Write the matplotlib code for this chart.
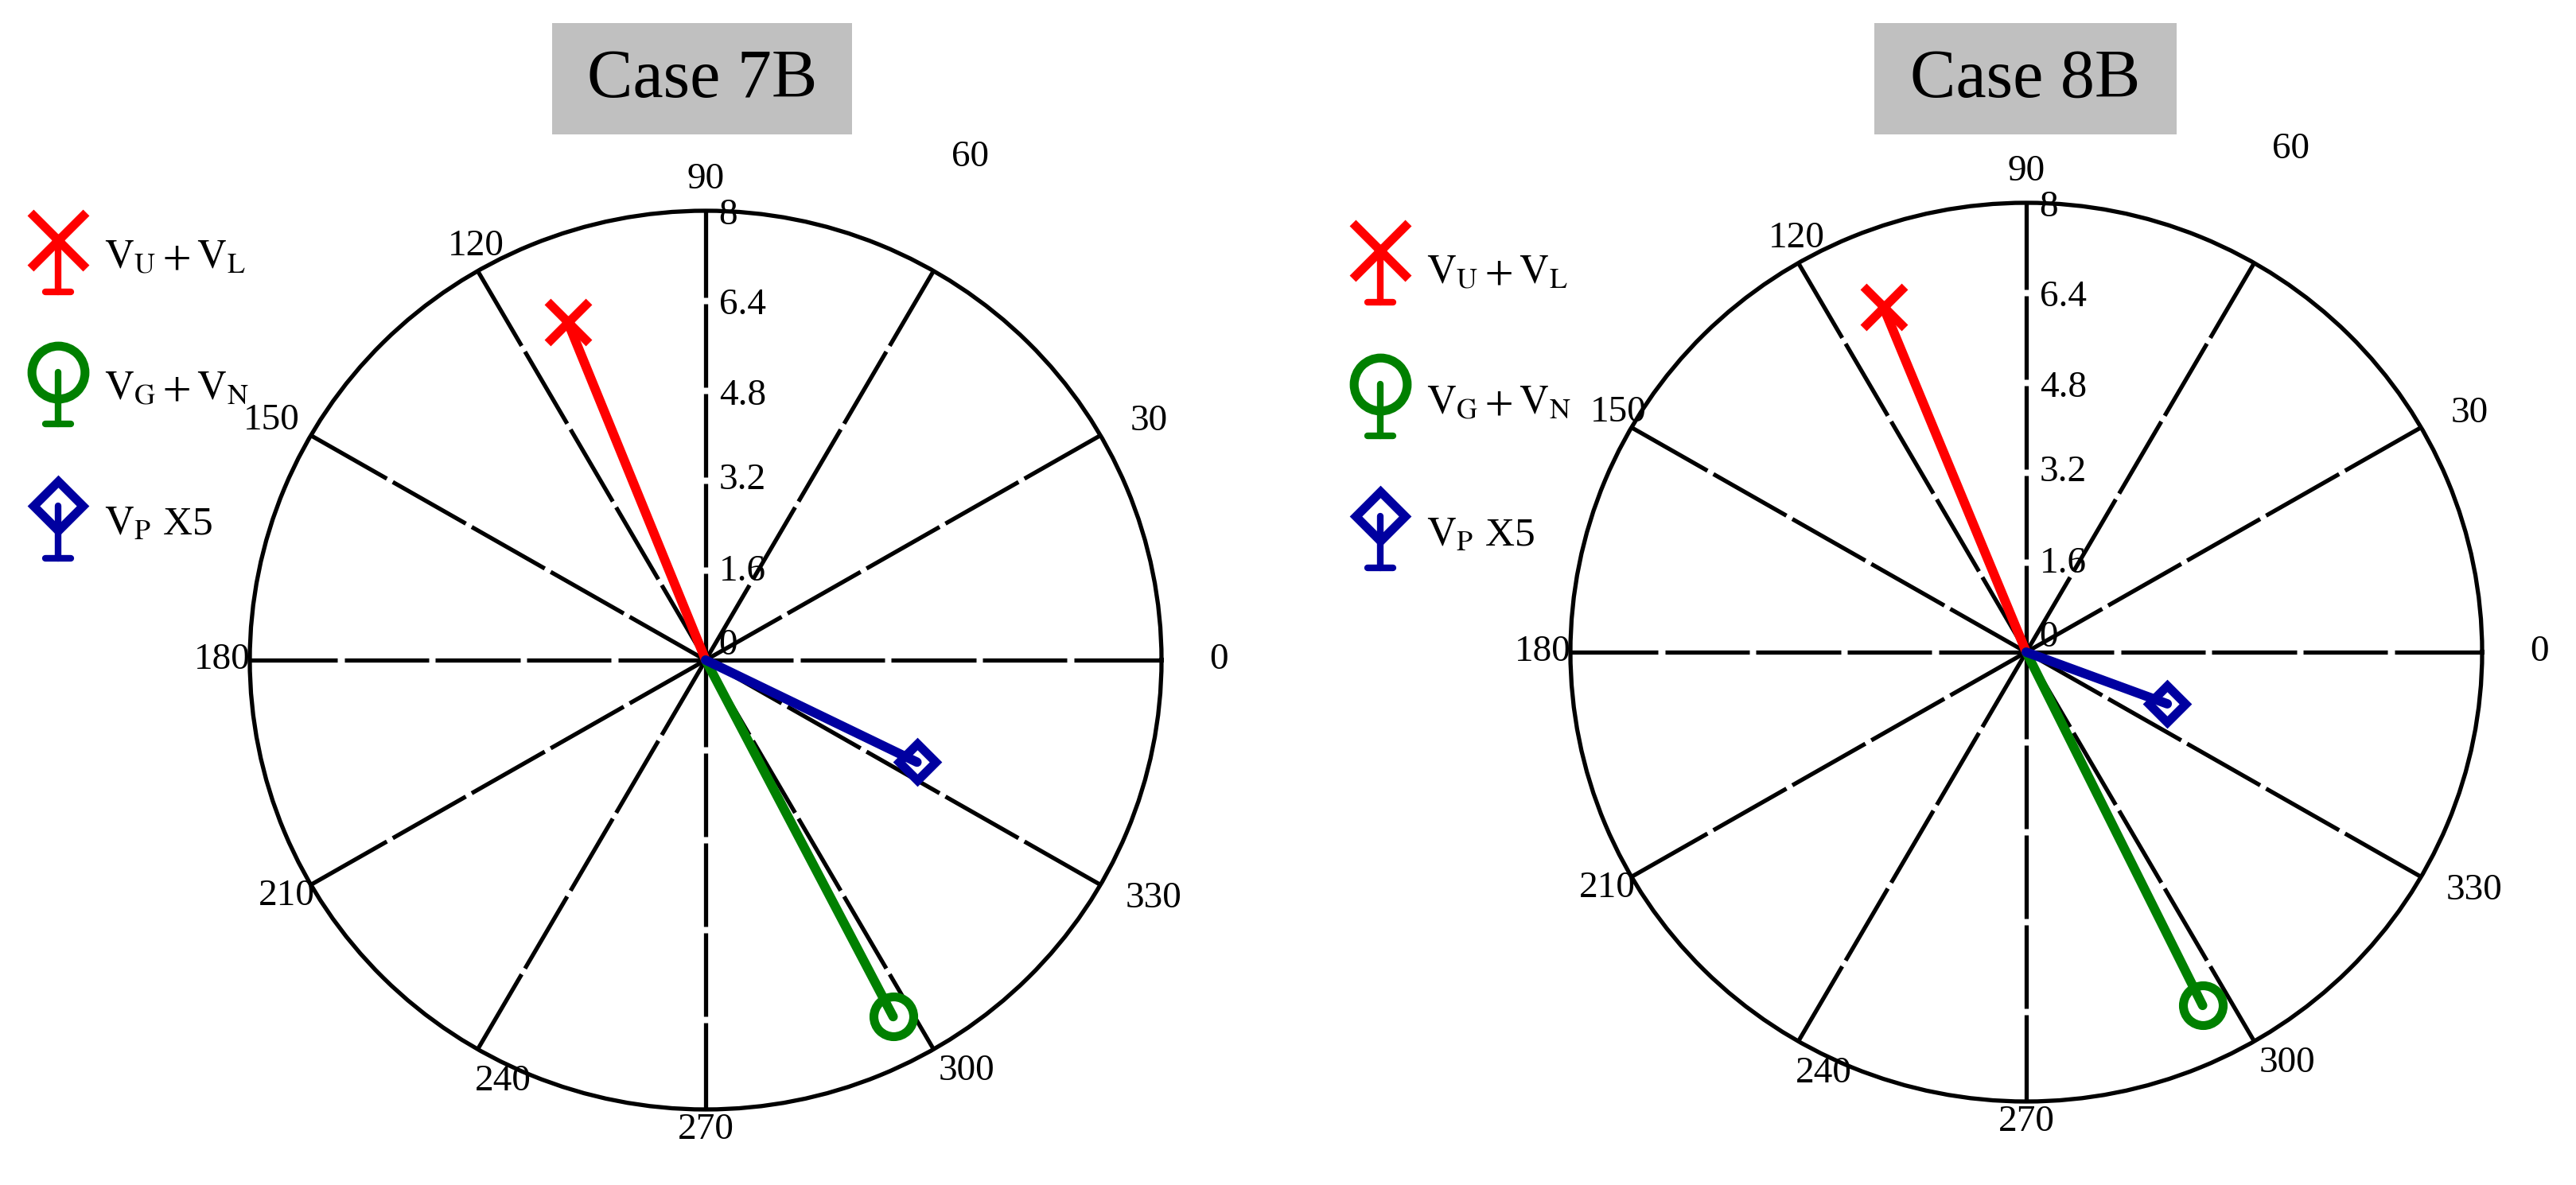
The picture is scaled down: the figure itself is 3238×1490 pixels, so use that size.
import numpy as np
import matplotlib.pyplot as plt
from matplotlib.patches import Rectangle
from matplotlib import transforms

plt.rcParams['font.family'] = ['Liberation Serif', 'DejaVu Serif']
plt.rcParams['mathtext.fontset'] = 'stix'

# data: magnitude and angle (deg) of each phasor
cases = ['Case 7B', 'Case 8B']
series_labels = [r'$\mathrm{V_U+V_L}$', r'$\mathrm{V_G+V_N}$', r'$\mathrm{V_P}$ X5']
series_colors = ['#ff0000', '#008000', '#0000a0']
series_markers = ['x', 'o', 'D']
mag_7b = [6.48, 7.15, 4.13]
ang_7b = [111.9, 297.4, 333.9]
mag_8b = [6.63, 7.01, 2.64]
ang_8b = [112.2, 296.2, 339.6]

r_ticks = [0, 1.6, 3.2, 4.8, 6.4, 8]
r_tick_labels = ['0', '1.6', '3.2', '4.8', '6.4', '8']
theta_ticks = [0, 30, 60, 90, 120, 150, 180, 210, 240, 270, 300, 330]

W, H = 3238, 1490
fig = plt.figure(figsize=(W / 100, H / 100), dpi=100)

# overlay in pixel coords for titles and legends
ov = fig.add_axes([0, 0, 1, 1])
ov.set_xlim(0, W)
ov.set_ylim(H, 0)
ov.axis('off')

# label positions around the circle (fraction of radius, x / y)
lab_off = {0: (1.125, 0), 30: (0.973, 0.532), 60: (0.58, 1.119), 90: (0, 1.07),
           120: (-0.504, 0.921), 150: (-0.953, 0.534), 180: (-1.06, 0),
           210: (-0.919, -0.525), 240: (-0.444, -0.937), 270: (0, -1.045),
           300: (0.572, -0.915), 330: (0.982, -0.531)}
lab_off_right = dict(lab_off)
lab_off_right[150] = (-0.895, 0.534)
# vertical nudge of radial labels, points
r_lab_dy = [13, -1, 0, -5, -4, -4]

plot_centers = [(887, 830), (2547, 820)]
Rx, Ry = 573, 565
title_boxes = [(694, 29, 377, 140), (2356, 29, 380, 140)]
legend_x = [73, 1735]
legend_y = [[302, 468, 636], [315, 483, 649]]
legend_base = [[367, 533, 702], [380, 548, 714]]
legend_text_y = [[338, 503, 672], [357, 521, 686]]

for k, (mags, angs) in enumerate([(mag_7b, ang_7b), (mag_8b, ang_8b)]):
    cx, cy = plot_centers[k]
    ax = fig.add_axes([(cx - Rx) / W, 1 - (cy + Ry) / H, 2 * Rx / W, 2 * Ry / H],
                      projection='polar')
    ax.set_aspect('auto')
    ax.set_ylim(0, 8)
    ax.grid(False)
    ax.set_xticks([])
    ax.set_yticks([])
    ax.spines['polar'].set_linewidth(3.8)
    ax.set_facecolor('none')

    # spokes broken at every ring
    gap = 0.06
    for t in theta_ticks:
        th = np.deg2rad(t)
        for i in range(len(r_ticks) - 1):
            r0 = r_ticks[i] + (gap if i > 0 else 0)
            r1 = r_ticks[i + 1] - (gap if i < len(r_ticks) - 2 else 0)
            ax.plot([th, th], [r0, r1], color='black', lw=3.8, solid_capstyle='butt', zorder=2)

    offs = lab_off if k == 0 else lab_off_right
    for t in theta_ticks:
        dx, dy = offs[t]
        ax.text(0.5 + 0.5 * dx, 0.5 + 0.5 * dy, str(t), transform=ax.transAxes,
                ha='center', va='center', fontsize=34)

    for r, lab, ddy in zip(r_ticks, r_tick_labels, r_lab_dy):
        off = transforms.offset_copy(ax.transData, fig=fig, x=12, y=ddy, units='points')
        ax.text(np.pi / 2, r, lab, transform=off, ha='left', va='center', fontsize=34)

    ms_plot = {'x': 38, 'o': 36, 'D': 23}
    for m, a, c, mk in zip(mags, angs, series_colors, series_markers):
        th = np.deg2rad(a)
        ax.plot([th, th], [0, m], color=c, lw=8.5, solid_capstyle='round', zorder=5)
        ax.plot([th], [m], marker=mk, ms=ms_plot[mk], mew=8, mfc='none', mec=c,
                zorder=6, clip_on=False)

    # title box
    bx, by, bw, bh = title_boxes[k]
    ov.add_patch(Rectangle((bx, by), bw, bh, facecolor='#c0c0c0', edgecolor='none'))
    ov.text(bx + bw / 2, by + bh / 2 + 2, cases[k], ha='center', va='center', fontsize=62)

    # legend
    lx = legend_x[k]
    ms_leg = {'x': 51, 'o': 48, 'D': 32}
    for j in range(3):
        my = legend_y[k][j]
        yb = legend_base[k][j]
        c = series_colors[j]
        ov.plot([lx, lx], [my, yb], color=c, lw=6, solid_capstyle='round')
        ov.plot([lx - 16, lx + 16], [yb, yb], color=c, lw=6, solid_capstyle='round')
        ov.plot([lx], [my], marker=series_markers[j], ms=ms_leg[series_markers[j]],
                mew=8, mfc='none', mec=c)
        ov.text(lx + 58, legend_text_y[k][j], series_labels[j], ha='left',
                va='baseline', fontsize=37)

fig.savefig('out.png', dpi=100)
